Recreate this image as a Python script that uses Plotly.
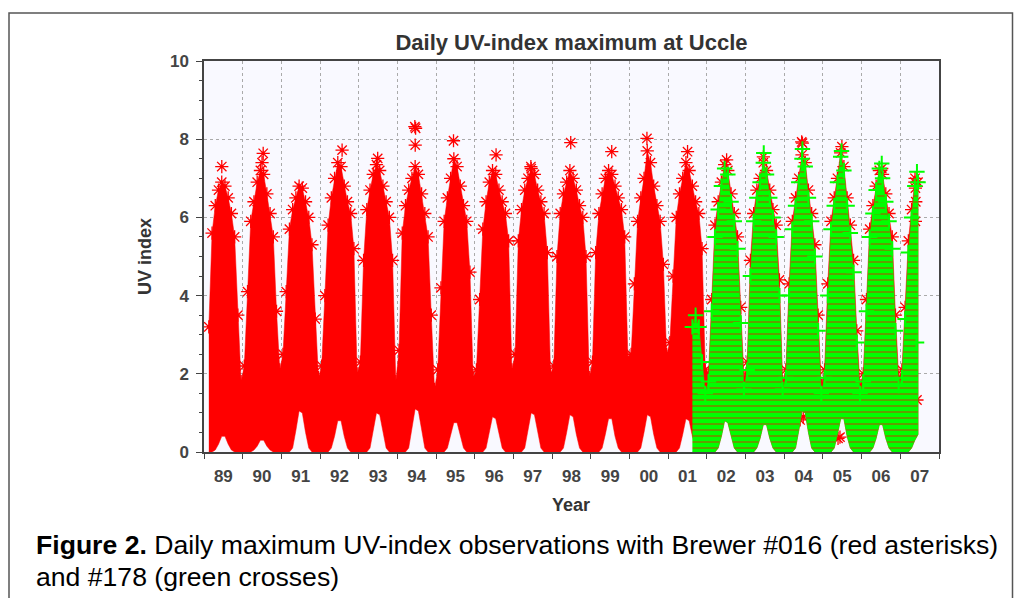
import plotly.graph_objects as go

# ---------------- data ----------------
year_ticks = list(range(1989, 2009))          # year boundaries (grid lines / ticks)
year_label_pos = [y + 0.5 for y in range(1989, 2008)]
year_labels = ['89', '90', '91', '92', '93', '94', '95', '96', '97', '98',
               '99', '00', '01', '02', '03', '04', '05', '06', '07']

# Brewer #016 (red): monthly outline of the cloud of daily maxima, Feb 1989 - Jun 2007
red_first_month = (1989, 2)
red_upper = [
    3.2, 5.6, 6.3, 6.7, 6.9, 6.8, 6.5, 6.1, 5.5, 3.5, 1.8,            # 1989 (Feb-Dec)
    2.2, 4.1, 5.9, 6.4, 6.9, 7.2, 7.1, 6.6, 6.1, 5.5, 3.6, 2.1,       # 1990
    2.5, 4.1, 5.7, 6.2, 6.5, 6.8, 6.75, 6.4, 6.0, 5.3, 3.4, 1.9,      # 1991
    2.2, 4.0, 5.8, 6.5, 7.0, 7.4, 7.3, 6.8, 6.4, 6.1, 5.2, 2.0,       # 1992
    2.3, 4.9, 6.2, 6.7, 7.1, 7.35, 7.2, 6.8, 6.4, 6.0, 4.9, 1.8,      # 1993
    2.6, 5.6, 6.3, 6.7, 7.0, 7.3, 7.1, 6.6, 6.1, 5.5, 3.5, 1.6,       # 1994
    2.1, 4.2, 5.9, 6.5, 7.0, 7.5, 7.3, 6.8, 6.3, 5.9, 4.6, 1.9,       # 1995
    2.1, 3.9, 5.7, 6.4, 6.9, 7.2, 7.1, 6.7, 6.4, 6.1, 5.4, 2.1,       # 1996
    2.5, 5.4, 6.2, 6.7, 7.0, 7.25, 7.1, 6.7, 6.4, 6.1, 5.1, 2.0,      # 1997
    2.2, 5.0, 6.1, 6.6, 6.9, 7.2, 7.0, 6.7, 6.3, 6.0, 5.0, 1.9,       # 1998
    2.3, 5.1, 6.1, 6.6, 7.0, 7.2, 7.1, 6.8, 6.5, 6.2, 5.5, 2.4,       # 1999
    2.5, 4.3, 5.9, 6.5, 7.0, 7.7, 7.4, 6.8, 6.3, 5.9, 4.8, 2.5,       # 2000
    2.8, 4.5, 6.0, 6.6, 7.0, 7.4, 7.2, 6.8, 6.4, 6.1, 5.2, 2.1,       # 2001
    2.0, 3.9, 5.8, 6.4, 6.9, 7.35, 7.2, 6.6, 6.1, 5.5, 3.7, 1.9,      # 2002
    2.3, 4.9, 6.1, 6.7, 7.0, 7.4, 7.2, 6.7, 6.2, 5.8, 4.4, 1.8,       # 2003
    2.1, 4.3, 5.9, 6.5, 7.0, 7.6, 7.4, 6.7, 6.1, 5.3, 3.5, 1.7,       # 2004
    2.1, 4.3, 5.9, 6.5, 7.0, 7.65, 7.3, 6.5, 5.8, 4.9, 3.1, 1.7,      # 2005
    2.0, 3.9, 5.7, 6.3, 6.8, 7.2, 7.1, 6.6, 6.1, 5.5, 3.5, 1.9,       # 2006
    2.1, 3.7, 5.4, 6.2, 6.9, 6.9,                                      # 2007 (Jan-Jun)
]
red_lower = [
    0.0, 0.0, 0.05, 0.2, 0.4, 0.4, 0.2, 0.05, 0.0, 0.0, 0.0,          # 1989 (Feb-Dec)
    0.0, 0.0, 0.0, 0.05, 0.15, 0.3, 0.3, 0.15, 0.05, 0.0, 0.0, 0.0,   # 1990
    0.0, 0.0, 0.0, 0.1, 0.55, 1.05, 1.0, 0.5, 0.1, 0.0, 0.0, 0.0,     # 1991
    0.0, 0.0, 0.0, 0.1, 0.4, 0.8, 0.8, 0.4, 0.1, 0.0, 0.0, 0.0,       # 1992
    0.0, 0.0, 0.0, 0.1, 0.5, 1.0, 0.95, 0.5, 0.1, 0.0, 0.0, 0.0,      # 1993
    0.0, 0.0, 0.0, 0.1, 0.55, 1.1, 1.05, 0.55, 0.1, 0.0, 0.0, 0.0,    # 1994
    0.0, 0.0, 0.0, 0.1, 0.4, 0.75, 0.75, 0.4, 0.1, 0.0, 0.0, 0.0,     # 1995
    0.0, 0.0, 0.0, 0.1, 0.45, 0.9, 0.85, 0.45, 0.1, 0.0, 0.0, 0.0,    # 1996
    0.0, 0.0, 0.0, 0.1, 0.5, 1.0, 0.95, 0.5, 0.1, 0.0, 0.0, 0.0,      # 1997
    0.0, 0.0, 0.0, 0.1, 0.5, 0.95, 0.9, 0.45, 0.1, 0.0, 0.0, 0.0,     # 1998
    0.0, 0.0, 0.0, 0.1, 0.45, 0.85, 0.85, 0.4, 0.1, 0.0, 0.0, 0.0,    # 1999
    0.0, 0.0, 0.0, 0.1, 0.5, 0.95, 0.9, 0.45, 0.1, 0.0, 0.0, 0.0,     # 2000
    0.0, 0.0, 0.0, 0.1, 0.45, 0.85, 0.8, 0.4, 0.1, 0.0, 0.0, 0.0,     # 2001
    0.0, 0.0, 0.0, 0.1, 0.4, 0.8, 0.75, 0.4, 0.1, 0.0, 0.0, 0.0,      # 2002
    0.0, 0.0, 0.0, 0.1, 0.35, 0.7, 0.7, 0.35, 0.1, 0.0, 0.0, 0.0,     # 2003
    0.0, 0.0, 0.0, 0.1, 0.55, 1.05, 1.0, 0.5, 0.1, 0.0, 0.0, 0.0,     # 2004
    0.0, 0.0, 0.0, 0.1, 0.45, 0.85, 0.85, 0.4, 0.1, 0.0, 0.0, 0.0,    # 2005
    0.0, 0.0, 0.0, 0.1, 0.35, 0.7, 0.7, 0.35, 0.1, 0.0, 0.0, 0.0,     # 2006
    0.0, 0.0, 0.0, 0.1, 0.3, 0.45,                                     # 2007 (Jan-Jun)
]

# Brewer #178 (green): monthly outline, Aug 2001 - Jun 2007
green_first_month = (2001, 8)
green_upper = [
    3.2, 3.5, 3.2, 2.3, 1.5,                                           # 2001 (Aug-Dec)
    1.8, 3.6, 5.5, 6.2, 6.8, 7.25, 7.1, 6.4, 5.9, 5.2, 3.3, 1.6,      # 2002
    2.1, 4.5, 5.9, 6.5, 6.9, 7.4, 7.1, 6.5, 6.0, 5.5, 4.0, 1.6,       # 2003
    1.9, 4.0, 5.7, 6.3, 6.9, 7.5, 7.3, 6.5, 5.9, 5.0, 3.1, 1.5,       # 2004
    1.9, 4.0, 5.7, 6.3, 6.9, 7.55, 7.2, 6.3, 5.6, 4.6, 2.8, 1.5,      # 2005
    1.8, 3.6, 5.5, 6.1, 6.7, 7.25, 7.0, 6.4, 5.9, 5.2, 3.1, 1.7,      # 2006
    1.9, 3.4, 5.1, 6.0, 6.8, 6.9,                                      # 2007 (Jan-Jun)
]
green_lower = [
    0.0, 0.0, 0.0, 0.0, 0.0,                                           # 2001 (Aug-Dec)
    0.0, 0.0, 0.0, 0.1, 0.4, 0.8, 0.75, 0.4, 0.1, 0.0, 0.0, 0.0,      # 2002
    0.0, 0.0, 0.0, 0.1, 0.35, 0.7, 0.7, 0.35, 0.1, 0.0, 0.0, 0.0,     # 2003
    0.0, 0.0, 0.0, 0.1, 0.55, 1.05, 1.0, 0.5, 0.1, 0.0, 0.0, 0.0,     # 2004
    0.0, 0.0, 0.0, 0.1, 0.45, 0.85, 0.85, 0.4, 0.1, 0.0, 0.0, 0.0,    # 2005
    0.0, 0.0, 0.0, 0.1, 0.35, 0.7, 0.7, 0.35, 0.1, 0.0, 0.0, 0.0,     # 2006
    0.0, 0.0, 0.0, 0.1, 0.3, 0.45,                                     # 2007 (Jan-Jun)
]

# individual conspicuous daily values (decimal year, UV index)
red_extra_t = [1989.46, 1990.53, 1990.50, 1990.42, 1992.57, 1993.49, 1994.45, 1994.47,
               1994.46, 1995.45, 1996.55, 1997.45, 1998.48, 1999.54, 2000.45, 2001.50,
               2002.51, 2003.46, 2004.45, 2004.47, 2005.49, 2006.52, 2007.38, 2007.39,
               2007.40, 2007.39, 2004.41, 2005.44, 2007.43, 2004.49, 2005.39]
red_extra_uv = [7.3, 7.64, 7.4, 6.3, 7.72, 7.51, 8.32, 8.28,
                7.85, 7.96, 7.6, 7.3, 7.91, 7.68, 8.02, 7.68,
                7.47, 7.55, 7.93, 7.9, 7.81, 7.25, 7.0, 6.75,
                6.4, 5.9, 0.82, 0.38, 1.33, 0.9, 0.35]
green_extra_t = [2003.47, 2004.47, 2005.48, 2006.52, 2007.43, 2007.42]
green_extra_uv = [7.65, 7.75, 7.7, 7.38, 7.17, 2.8]


# ---------------- helpers ----------------
def month_times(start, n):
    y, m = start
    out = []
    for _ in range(n):
        out.append(y + (m - 0.5) / 12.0)
        m += 1
        if m > 12:
            m = 1
            y += 1
    return out


red_t = month_times(red_first_month, len(red_upper))
green_t = month_times(green_first_month, len(green_upper))

RED = '#ff0000'
GREEN = '#00ff00'

fig = go.Figure()

# red cloud
fig.add_trace(go.Scatter(
    x=red_t + red_t[::-1], y=red_upper + red_lower[::-1],
    mode='lines', fill='toself', fillcolor=RED,
    line=dict(width=0.5, color=RED), hoverinfo='skip', showlegend=False))
fig.add_trace(go.Scatter(
    x=red_t + red_extra_t, y=red_upper + red_extra_uv,
    mode='markers', showlegend=False, hoverinfo='skip',
    marker=dict(symbol='asterisk-open', size=11, color=RED,
                line=dict(width=1.3, color=RED))))

# green cloud
fig.add_trace(go.Scatter(
    x=green_t + green_t[::-1], y=green_upper + green_lower[::-1],
    mode='lines', fill='toself', fillcolor=GREEN,
    fillpattern=dict(shape='-', fgcolor=RED, bgcolor=GREEN, size=6, solidity=0.25),
    line=dict(width=0.5, color=GREEN), hoverinfo='skip', showlegend=False))
fig.add_trace(go.Scatter(
    x=green_t + green_extra_t, y=green_upper + green_extra_uv,
    mode='markers', showlegend=False, hoverinfo='skip',
    marker=dict(symbol='cross-thin-open', size=11, color=GREEN,
                line=dict(width=2, color=GREEN))))

FONT = 'Liberation Sans, Arial, sans-serif'
AX = '#444444'
GRID = '#aaaaaa'
tickfont = dict(family=FONT, size=17, color=AX, weight='bold')

fig.update_xaxes(
    range=[1989, 2008], tickmode='array', tickvals=year_label_pos, ticktext=year_labels,
    ticks='', showgrid=False, zeroline=False, tickfont=tickfont, ticklabelstandoff=8,
    showline=True, linecolor=AX, linewidth=1.5, mirror=True,
    minor=dict(tickmode='array', tickvals=year_ticks, ticks='outside', ticklen=5,
               tickwidth=1.2, tickcolor=AX, showgrid=True, gridcolor=GRID,
               griddash='dot', gridwidth=1))
fig.update_yaxes(
    range=[0, 10], tickmode='array', tickvals=[0, 2, 4, 6, 8, 10],
    ticks='outside', ticklen=6, tickwidth=1.2, tickcolor=AX,
    showgrid=True, gridcolor=GRID, griddash='dot', gridwidth=1, zeroline=False,
    tickfont=tickfont, ticklabelstandoff=4,
    showline=True, linecolor=AX, linewidth=1.5, mirror=True,
    minor=dict(dtick=0.5, tick0=0, ticks='outside', ticklen=3, tickwidth=1.2,
               tickcolor=AX, showgrid=False))

W, H = 1014, 598
L, R, T, B = 204, 75, 61, 146
pw, ph = W - L - R, H - T - B


def px(xpix):
    return (xpix - L) / pw


def py(ypix):
    return (H - B - ypix) / ph


fig.update_layout(
    width=W, height=H, margin=dict(l=L, r=R, t=T, b=B),
    paper_bgcolor='white', plot_bgcolor='#f9f9ff',
    title=dict(text='Daily UV-index maximum at Uccle', x=0.5, xref='paper',
               y=1 - 42 / H, yref='container', yanchor='middle', xanchor='center',
               font=dict(family=FONT, size=22, color='#333333', weight='bold')),
    annotations=[
        dict(text='UV index', x=px(145), y=py(257), xref='paper', yref='paper',
             textangle=-90, showarrow=False, xanchor='center', yanchor='middle',
             font=dict(family=FONT, size=18, color='#333333', weight='bold')),
        dict(text='Year', x=px(571), y=py(505), xref='paper', yref='paper',
             showarrow=False, xanchor='center', yanchor='middle',
             font=dict(family=FONT, size=18, color='#333333', weight='bold')),
        dict(text='<b>Figure 2.</b> Daily maximum UV-index observations with Brewer #016 '
                  '(red asterisks)',
             x=px(34), y=py(545), xref='paper', yref='paper', showarrow=False,
             xanchor='left', yanchor='middle', align='left',
             font=dict(family=FONT, size=26.6, color='black')),
        dict(text='and #178 (green crosses)',
             x=px(34), y=py(577), xref='paper', yref='paper', showarrow=False,
             xanchor='left', yanchor='middle', align='left',
             font=dict(family=FONT, size=26.6, color='black')),
    ],
    shapes=[
        dict(type='path', xref='paper', yref='paper',
             path=f'M {px(9)} {py(640)} L {px(9)} {py(13)} L {px(1012.5)} {py(13)} L {px(1012.5)} {py(640)}',
             line=dict(color='#555555', width=1.5)),
    ],
)

fig.write_html('out.html', config={'displayModeBar': False},
               post_script="document.body.style.margin='0';"
                           "document.body.style.overflow='hidden';")
